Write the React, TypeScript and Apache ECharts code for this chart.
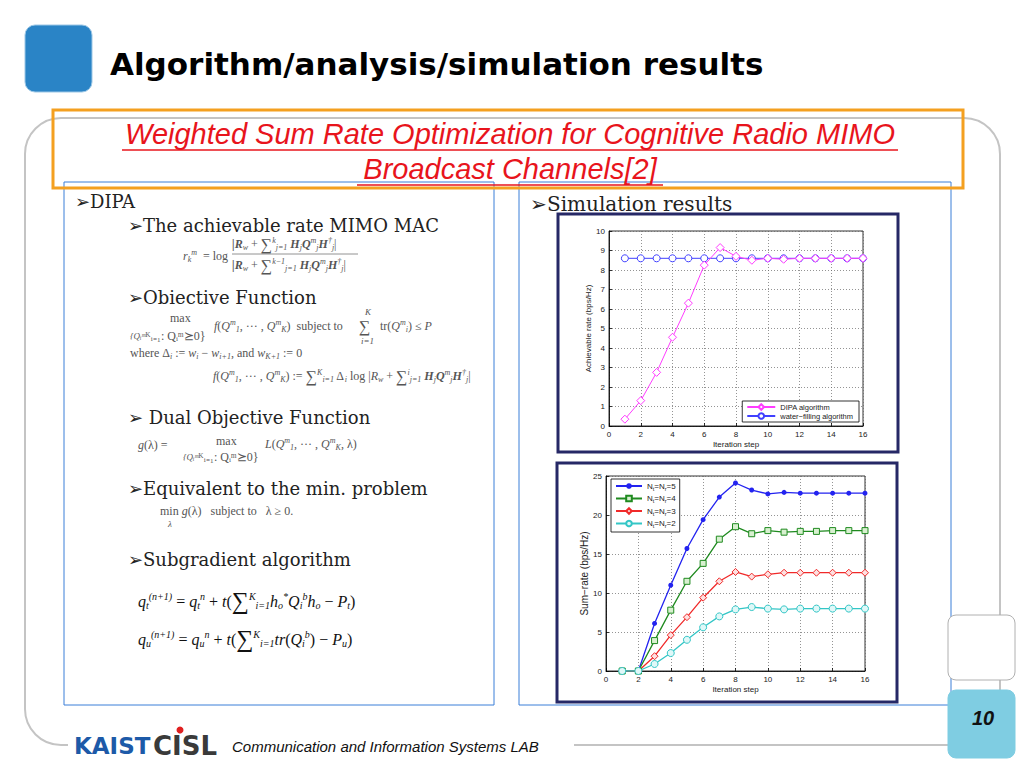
import React, { useEffect, useRef } from "react";
import * as echarts from "echarts";

const steps = [1, 2, 3, 4, 5, 6, 7, 8, 9, 10, 11, 12, 13, 14, 15, 16];
const dipa = [0.35, 1.3, 2.75, 4.55, 6.3, 8.25, 9.15, 8.7, 8.5, 8.6, 8.55, 8.6, 8.6, 8.6, 8.6, 8.6];
const waterFilling = [8.6, 8.6, 8.6, 8.6, 8.6, 8.6, 8.6, 8.6, 8.6, 8.6, 8.6, 8.6, 8.6, 8.6, 8.6, 8.6];
const sumRate5 = [0, 0, 6.1, 11.0, 15.7, 19.4, 22.3, 24.1, 23.2, 22.7, 22.9, 22.8, 22.8, 22.8, 22.8, 22.8];
const sumRate4 = [0, 0, 3.9, 7.8, 11.5, 13.8, 16.9, 18.5, 17.6, 18.0, 17.8, 17.9, 17.9, 18.0, 18.0, 18.0];
const sumRate3 = [0, 0, 1.9, 4.6, 6.9, 9.4, 11.5, 12.7, 12.1, 12.4, 12.6, 12.6, 12.6, 12.6, 12.6, 12.6];
const sumRate2 = [0, 0, 0.9, 2.3, 4.0, 5.6, 7.0, 7.9, 8.2, 8.0, 7.9, 8.0, 8.0, 8.0, 8.0, 8.0];
const topLegend = ["DIPA algorithm", "water\u2212filling algorithm"];
const bottomLegend = ["Nt=Nr=5", "Nt=Nr=4", "Nt=Nr=3", "Nt=Nr=2"];

const pairs = (ys: number[]) => steps.map((x, i) => [x, ys[i]]);

const SERIF = "DejaVu Serif";
const MATH = "Liberation Serif";

const mathRich = {
  i: { fontStyle: "italic", fontFamily: MATH, fontSize: 12, fill: "#555" },
  n: { fontFamily: MATH, fontSize: 12, fill: "#555" },
  b: { fontFamily: MATH, fontSize: 12, fontWeight: "bold", fontStyle: "italic", fill: "#555" },
  sup: { fontStyle: "italic", fontFamily: MATH, fontSize: 8, fill: "#555", padding: [0, 0, 8, 0] },
  sub: { fontStyle: "italic", fontFamily: MATH, fontSize: 8, fill: "#555", padding: [7, 0, 0, 0] },
  sm: { fontStyle: "italic", fontFamily: MATH, fontSize: 9, fill: "#555" },
  big: { fontFamily: MATH, fontSize: 16, fill: "#555" },
};
const blackRich = {
  i: { fontStyle: "italic", fontFamily: MATH, fontSize: 16, fill: "#111" },
  n: { fontFamily: MATH, fontSize: 16, fill: "#111" },
  sup: { fontStyle: "italic", fontFamily: MATH, fontSize: 10, fill: "#111", padding: [0, 0, 10, 0] },
  sub: { fontStyle: "italic", fontFamily: MATH, fontSize: 10, fill: "#111", padding: [9, 0, 0, 0] },
  big: { fontFamily: MATH, fontSize: 24, fill: "#111" },
};

function txt(x: number, y: number, text: string, extra: any = {}, z2 = 20) {
  return {
    type: "text",
    x,
    y,
    z2,
    style: {
      text,
      fill: "#222",
      fontFamily: SERIF,
      fontSize: 18,
      textAlign: "left",
      align: "left",
      textVerticalAlign: "middle",
      verticalAlign: "middle",
      ...extra,
    },
  };
}

function mtxt(x: number, y: number, text: string, rich: any = mathRich) {
  return txt(x, y, text, { rich, fontSize: 12, fontFamily: MATH, fill: "#555" });
}

function hline(x1: number, x2: number, y: number, color: string, w = 1, z2 = 20) {
  return { type: "line", z2, shape: { x1, y1: y, x2, y2: y }, style: { stroke: color, lineWidth: w } };
}

function rect(x: number, y: number, w: number, h: number, style: any, r = 0, z2 = 5) {
  return { type: "rect", z2, shape: { x, y, width: w, height: h, r }, style };
}

const axisCommon = {
  axisLine: { show: true, lineStyle: { color: "#000", width: 0.8 } },
  axisTick: { show: true, inside: true, length: 3, lineStyle: { color: "#000", width: 0.8 } },
  axisLabel: { fontSize: 8, color: "#222", fontFamily: "Liberation Sans", margin: 4 },
  splitLine: { show: true, lineStyle: { color: "#666", width: 0.7, type: [1, 2] } },
  nameTextStyle: { fontSize: 8, color: "#222", fontFamily: "Liberation Sans" },
};

export default function App() {
  const ref = useRef<HTMLDivElement>(null);
  useEffect(() => {
    if (!ref.current) return;
    const chart = echarts.init(ref.current, undefined, { renderer: "svg" });
    const graphics: any[] = [
      // big gray outline
      rect(25, 118, 975, 627, { fill: "none", stroke: "#c4c4c4", lineWidth: 2 }, 36, 1),
      rect(68, 734, 506, 24, { fill: "#fff", stroke: "none" }, 0, 2),
      // title block
      rect(25, 25, 67, 67, { fill: "#2a84c6", stroke: "#9cc7e6", lineWidth: 1 }, 10, 3),
      txt(110, 64, "Algorithm/analysis/simulation results", {
        fontFamily: "DejaVu Sans",
        fontWeight: "bold",
        fontSize: 31,
        fill: "#000",
      }),
      // orange box
      rect(53, 110, 910, 78, { fill: "none", stroke: "#f4a020", lineWidth: 3 }, 0, 8),
      txt(510, 134, "Weighted Sum Rate Optimization for Cognitive Radio MIMO", {
        fontFamily: "Liberation Sans",
        fontStyle: "italic",
        fontSize: 29,
        fill: "#e8141c",
        textAlign: "center",
        align: "center",
      }),
      hline(122, 898, 150, "#e8141c", 1.5),
      txt(510, 169, "Broadcast Channels[2]", {
        fontFamily: "Liberation Sans",
        fontStyle: "italic",
        fontSize: 29,
        fill: "#e8141c",
        textAlign: "center",
        align: "center",
      }),
      hline(357, 663, 185, "#e8141c", 1.5),
      // blue boxes
      rect(64, 182, 430, 523, { fill: "none", stroke: "#3a7fd8", lineWidth: 1 }, 0, 6),
      rect(519, 182, 432, 523, { fill: "none", stroke: "#3a7fd8", lineWidth: 1 }, 0, 6),
      // left column text
      txt(75, 201, "\u27A2DIPA"),
      txt(128, 225, "\u27A2The achievable rate MIMO MAC"),
      mtxt(183, 256, "{i|r}{sub|k}{sup|m} {n| = log}"),
      mtxt(232, 244, "{b||R}{sub|w}{n| + }{big|\u2211}{sup|k}{sub|j=1}{b| H}{sub|j}{b|Q}{sup|m}{sub|j}{b|H}{sup|\u2020}{sub|j}{n||}"),
      hline(232, 358, 254, "#777", 0.8),
      mtxt(232, 265, "{b||R}{sub|w}{n| + }{big|\u2211}{sup|k\u22121}{sub|j=1}{b| H}{sub|j}{b|Q}{sup|m}{sub|j}{b|H}{sup|\u2020}{sub|j}{n||}"),
      txt(128, 297, "\u27A2Obiective Function"),
      mtxt(170, 318, "{n|max}"),
      mtxt(130, 336, "{sm|{Q\u1d62\u1d50}\u1d37\u1d62\u208c\u2081: Q\u1d62\u1d50\u2ab00}"),
      mtxt(214, 326, "{i|f}{n|(}{i|Q}{sup|m}{sub|1}{n|, \u00b7\u00b7\u00b7 , }{i|Q}{sup|m}{sub|K}{n|)  subject to}"),
      mtxt(365, 312, "{sm|K}"),
      mtxt(359, 326, "{big|\u2211}"),
      mtxt(361, 341, "{sm|i=1}"),
      mtxt(380, 326, "{n|tr(}{i|Q}{sup|m}{sub|i}{n|) \u2264 }{i|P}"),
      mtxt(130, 353, "{n|where \u0394}{sub|i}{n| := }{i|w}{sub|i}{n| \u2212 }{i|w}{sub|i+1}{n|, and }{i|w}{sub|K+1}{n| := 0}"),
      mtxt(213, 376, "{i|f}{n|(}{i|Q}{sup|m}{sub|1}{n|, \u00b7\u00b7\u00b7 , }{i|Q}{sup|m}{sub|K}{n|) := }{big|\u2211}{sup|K}{sub|i=1}{n| \u0394}{sub|i}{n| log |}{i|R}{sub|w}{n| + }{big|\u2211}{sup|i}{sub|j=1}{b| H}{sub|j}{b|Q}{sup|m}{sub|j}{b|H}{sup|\u2020}{sub|j}{n||}"),
      txt(128, 417, "\u27A2 Dual Objective Function"),
      mtxt(138, 445, "{i|g}{n|(\u03bb) =}"),
      mtxt(216, 441, "{n|max}"),
      mtxt(183, 457, "{sm|{Q\u1d62\u1d50}\u1d37\u1d62\u208c\u2081: Q\u1d62\u1d50\u2ab00}"),
      mtxt(265, 444, "{i|L}{n|(}{i|Q}{sup|m}{sub|1}{n|, \u00b7\u00b7\u00b7 , }{i|Q}{sup|m}{sub|K}{n|, \u03bb)}"),
      txt(128, 488, "\u27A2Equivalent to the min. problem"),
      mtxt(160, 511, "{n|min }{i|g}{n|(\u03bb)   subject to   \u03bb \u2265 0.}"),
      mtxt(168, 524, "{sm|\u03bb}"),
      txt(128, 559, "\u27A2Subgradient algorithm"),
      mtxt(138, 601, "{i|q}{sub|t}{sup|(n+1)}{n| = }{i|q}{sub|t}{sup|n}{n| + }{i|t}{n|(}{big|\u2211}{sup|K}{sub|i=1}{i|h}{sub|o}{sup|*}{i|Q}{sub|i}{sup|b}{i|h}{sub|o}{n| \u2212 }{i|P}{sub|t}{n|)}", blackRich),
      mtxt(138, 639, "{i|q}{sub|u}{sup|(n+1)}{n| = }{i|q}{sub|u}{sup|n}{n| + }{i|t}{n|(}{big|\u2211}{sup|K}{sub|i=1}{i|tr}{n|(}{i|Q}{sub|i}{sup|b}{n|) \u2212 }{i|P}{sub|u}{n|)}", blackRich),
      // right column
      txt(530, 204, "\u27A2Simulation results", { fontSize: 20 }),
      rect(558, 214, 340, 238, { fill: "none", stroke: "#262866", lineWidth: 3 }, 0, 6),
      rect(557, 463, 340, 239, { fill: "none", stroke: "#262866", lineWidth: 3 }, 0, 6),
      // right side boxes
      rect(948, 615, 67, 65, { fill: "#fff", stroke: "#b0b0b0", lineWidth: 1 }, 8, 9),
      rect(948, 690, 67, 68, { fill: "#7fcde2", stroke: "#7fcde2", lineWidth: 1 }, 8, 9),
      txt(983, 718, "10", {
        fontFamily: "Liberation Sans",
        fontWeight: "bold",
        fontStyle: "italic",
        fontSize: 20,
        fill: "#111",
        textAlign: "center",
        align: "center",
      }),
      // footer
      hline(578, 946, 745, "#c4c4c4", 2, 3),
      txt(74, 746, "KAIST", {
        fontFamily: "DejaVu Sans",
        fontWeight: "bold",
        fontSize: 23,
        fill: "#1d5aa8",
      }),
      txt(153, 746, "CISL", {
        fontFamily: "DejaVu Sans",
        fontWeight: "bold",
        fontSize: 26,
        fill: "#3a3a3a",
      }),
      { type: "circle", z2: 25, shape: { cx: 180, cy: 730, r: 3.5 }, style: { fill: "#e02020" } },
      txt(232, 746, "Communication and Information Systems LAB", {
        fontFamily: "Liberation Sans",
        fontStyle: "italic",
        fontSize: 15,
        fill: "#111",
      }),
    ];

    const lab = (n: string) => {
      const m = n.match(/^Nt=Nr=(\d)$/);
      return m ? `N{s|t}=N{s|r}=${m[1]}` : n;
    };

    chart.setOption({
      animation: false,
      backgroundColor: "#fff",
      graphic: { elements: graphics },
      grid: [
        { left: 609, top: 231, width: 254, height: 195, show: true, borderColor: "#000", borderWidth: 0.8 },
        { left: 606, top: 476, width: 259, height: 195, show: true, borderColor: "#000", borderWidth: 0.8 },
      ],
      xAxis: [
        {
          ...axisCommon,
          gridIndex: 0,
          type: "value",
          min: 0,
          max: 16,
          interval: 2,
          name: "Iteration step",
          nameLocation: "middle",
          nameGap: 14,
        },
        {
          ...axisCommon,
          gridIndex: 1,
          type: "value",
          min: 0,
          max: 16,
          interval: 2,
          name: "Iteration step",
          nameLocation: "middle",
          nameGap: 14,
        },
      ],
      yAxis: [
        {
          ...axisCommon,
          gridIndex: 0,
          type: "value",
          min: 0,
          max: 10,
          interval: 1,
          name: "Achievable rate (bps/Hz)",
          nameLocation: "middle",
          nameGap: 14,
        },
        {
          ...axisCommon,
          gridIndex: 1,
          type: "value",
          min: 0,
          max: 25,
          interval: 5,
          name: "Sum\u2212rate (bps/Hz)",
          nameLocation: "middle",
          nameGap: 17,
          nameTextStyle: { fontSize: 10, color: "#222", fontFamily: "Liberation Sans" },
        },
      ],
      legend: [
        {
          data: topLegend,
          orient: "vertical",
          right: 1024 - 859,
          top: 401,
          itemGap: 1,
          itemWidth: 28,
          itemHeight: 7,
          padding: [2, 6, 2, 4],
          backgroundColor: "#fff",
          borderColor: "#000",
          borderWidth: 0.8,
          borderRadius: 0,
          textStyle: { fontSize: 7.5, color: "#222", fontFamily: "Liberation Sans" },
        },
        {
          data: bottomLegend,
          orient: "vertical",
          left: 611,
          top: 479,
          itemGap: 3,
          itemWidth: 26,
          itemHeight: 7,
          padding: [3, 4, 3, 4],
          backgroundColor: "#fff",
          borderColor: "#000",
          borderWidth: 0.8,
          borderRadius: 0,
          formatter: lab,
          textStyle: {
            fontSize: 8,
            color: "#222",
            fontFamily: "Liberation Sans",
            rich: { s: { fontSize: 5.5, padding: [5, 0, 0, 0], color: "#222" } },
          },
        },
      ],
      series: [
        {
          name: topLegend[0],
          type: "line",
          xAxisIndex: 0,
          yAxisIndex: 0,
          data: pairs(dipa),
          symbol: "diamond",
          symbolSize: 8,
          lineStyle: { color: "#ff3cff", width: 1 },
          itemStyle: { color: "#fff", borderColor: "#ff3cff", borderWidth: 1 },
          z: 3,
        },
        {
          name: topLegend[1],
          type: "line",
          xAxisIndex: 0,
          yAxisIndex: 0,
          data: pairs(waterFilling),
          symbol: "circle",
          symbolSize: 7,
          lineStyle: { color: "#4040ff", width: 1 },
          itemStyle: { color: "#fff", borderColor: "#4040ff", borderWidth: 1 },
          z: 2,
        },
        {
          name: bottomLegend[0],
          type: "line",
          xAxisIndex: 1,
          yAxisIndex: 1,
          data: pairs(sumRate5),
          symbol: "circle",
          symbolSize: 5,
          lineStyle: { color: "#2323f0", width: 1.3 },
          itemStyle: { color: "#2323f0" },
        },
        {
          name: bottomLegend[1],
          type: "line",
          xAxisIndex: 1,
          yAxisIndex: 1,
          data: pairs(sumRate4),
          symbol: "rect",
          symbolSize: 6,
          lineStyle: { color: "#1f8a1f", width: 1.3 },
          itemStyle: { color: "#d8f0d0", borderColor: "#1f8a1f", borderWidth: 1 },
        },
        {
          name: bottomLegend[2],
          type: "line",
          xAxisIndex: 1,
          yAxisIndex: 1,
          data: pairs(sumRate3),
          symbol: "diamond",
          symbolSize: 7,
          lineStyle: { color: "#f02a2a", width: 1.3 },
          itemStyle: { color: "#fde0e0", borderColor: "#f02a2a", borderWidth: 1 },
        },
        {
          name: bottomLegend[3],
          type: "line",
          xAxisIndex: 1,
          yAxisIndex: 1,
          data: pairs(sumRate2),
          symbol: "circle",
          symbolSize: 7,
          lineStyle: { color: "#33c6c6", width: 1.3 },
          itemStyle: { color: "#e0f8f8", borderColor: "#33c6c6", borderWidth: 1 },
        },
      ],
    });
    return () => chart.dispose();
  }, []);
  return (
    <div
      ref={ref}
      style={{ position: "fixed", left: 0, top: 0, width: 1024, height: 768, background: "#fff" }}
    />
  );
}
